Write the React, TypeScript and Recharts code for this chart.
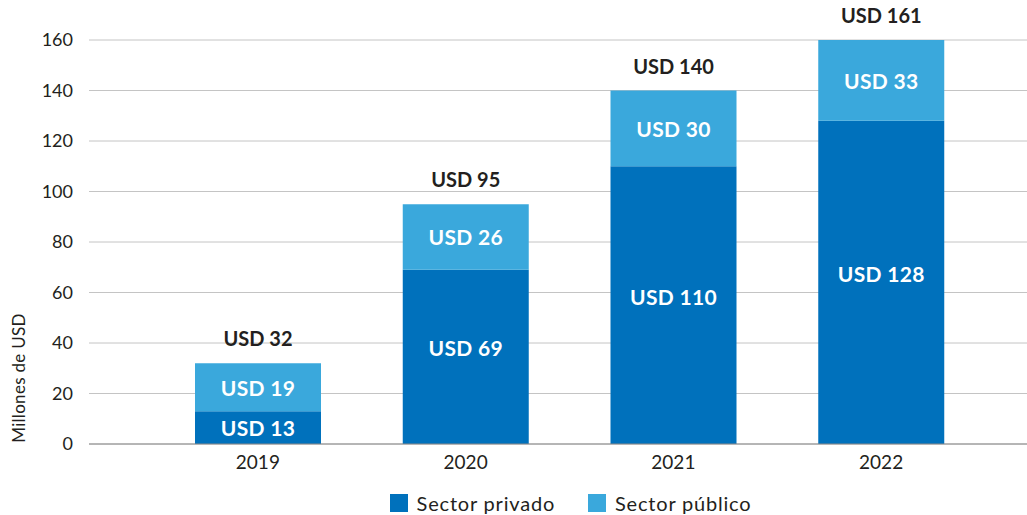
import { BarChart, Bar, XAxis, YAxis, CartesianGrid, Legend, LabelList, Label } from 'recharts'

const years = ['2019', '2020', '2021', '2022']
const privado = [13, 69, 110, 128]
const publico = [19, 26, 30, 33]
const totals = [32, 95, 140, 161]
const yTicks = [0, 20, 40, 60, 80, 100, 120, 140, 160]

const DARK = '#0071bc'
const LIGHT = '#3aa8dc'
const FONT = 'Lato, "Open Sans", sans-serif'

const data = years.map((year, i) => ({
  year,
  privado: privado[i],
  publico: publico[i],
  total: totals[i]
}))

const InsideLabel = (props: any) => {
  const { x, y, width, height, value } = props
  return (
    <text
      x={x + width / 2}
      y={y + height / 2 - (height > 100 ? 9 : 0)}
      textAnchor="middle"
      dominantBaseline="central"
      fill="#fff"
      fontSize={21}
      fontWeight={700}
      fontFamily={FONT}
      letterSpacing={0.3}
    >
      USD {value}
    </text>
  )
}

const TotalLabel = (props: any) => {
  const { x, y, width, index } = props
  return (
    <text
      x={x + width / 2}
      y={y - 25}
      textAnchor="middle"
      dominantBaseline="central"
      fill="#231f20"
      fontSize={20}
      fontWeight={700}
      fontFamily={FONT}
    >
      USD {totals[index]}
    </text>
  )
}

const LegendContent = () => (
  <div
    style={{
      display: 'flex',
      justifyContent: 'center',
      alignItems: 'center',
      gap: 33,
      marginTop: 20,
      paddingLeft: 114,
      fontFamily: FONT,
      fontSize: 20,
      lineHeight: '18px',
      letterSpacing: 0.8,
      color: '#231f20'
    }}
  >
    {[
      { name: 'Sector privado', color: DARK },
      { name: 'Sector público', color: LIGHT }
    ].map((item) => (
      <div key={item.name} style={{ display: 'flex', alignItems: 'center', gap: 9 }}>
        <span style={{ width: 18, height: 18, background: item.color, display: 'inline-block' }} />
        <span>{item.name}</span>
      </div>
    ))}
  </div>
)

export default function App() {
  return (
    <div style={{ position: 'absolute', left: 0, top: 0, background: '#fff' }}>
      <BarChart
        width={1027}
        height={515}
        data={data}
        margin={{ top: 40, right: 0, bottom: 0, left: 0 }}
      >
        <CartesianGrid vertical={false} stroke="#c4c4c4" />
        <XAxis
          dataKey="year"
          height={30}
          padding={{ left: 65, right: 42 }}
          tickLine={false}
          axisLine={{ stroke: '#8a8a8a' }}
          tick={{ fill: '#231f20', fontSize: 19, fontFamily: FONT }}
          tickMargin={6}
        />
        <YAxis
          width={89}
          domain={[0, 160]}
          ticks={yTicks}
          allowDataOverflow
          axisLine={false}
          tickLine={false}
          tickMargin={10}
          tick={{ fill: '#231f20', fontSize: 18, fontFamily: FONT }}
        >
          <Label
            content={({ viewBox }: any) => (
              <text
                x={18}
                y={viewBox.y + viewBox.height - 66}
                transform={`rotate(-90, 18, ${viewBox.y + viewBox.height - 66})`}
                textAnchor="middle"
                dominantBaseline="central"
                fill="#231f20"
                fontSize={17}
                letterSpacing={0.3}
                fontFamily={FONT}
              >
                Millones de USD
              </text>
            )}
          />
        </YAxis>
        <Legend verticalAlign="bottom" height={41} content={<LegendContent />} />
        <Bar dataKey="privado" stackId="a" fill={DARK} barSize={126} isAnimationActive={false}>
          <LabelList dataKey="privado" content={<InsideLabel />} />
        </Bar>
        <Bar dataKey="publico" stackId="a" fill={LIGHT} barSize={126} isAnimationActive={false}>
          <LabelList dataKey="publico" content={<InsideLabel />} />
          <LabelList dataKey="total" content={<TotalLabel />} />
        </Bar>
      </BarChart>
    </div>
  )
}
